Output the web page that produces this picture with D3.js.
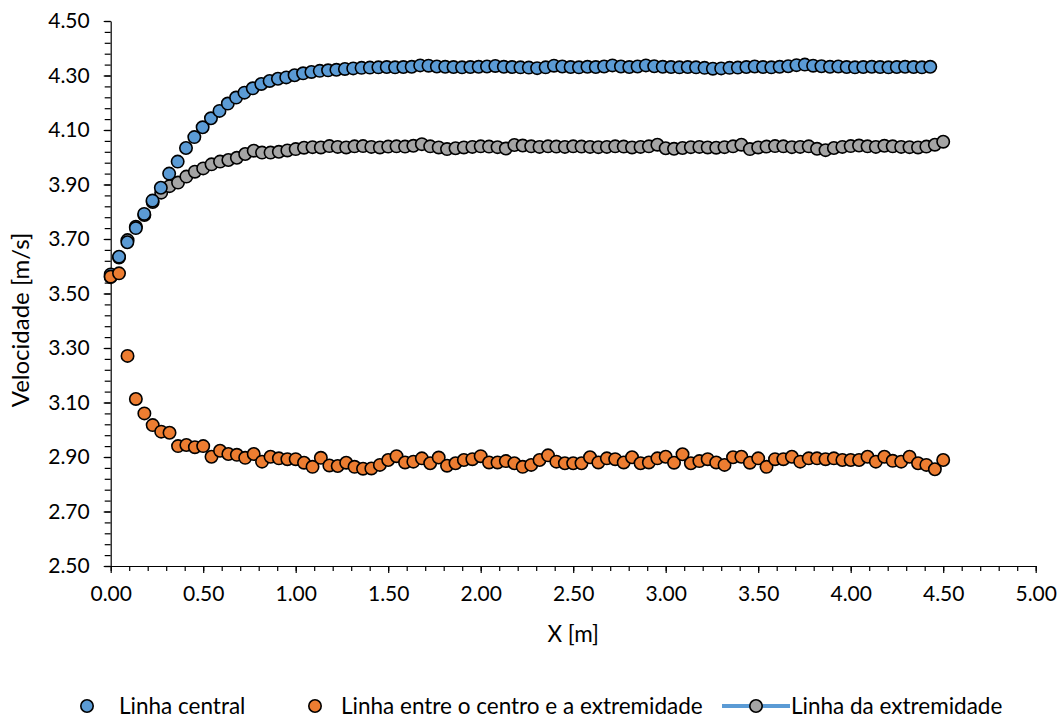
<!DOCTYPE html>
<html>
<head>
<meta charset="utf-8">
<script src="https://cdn.jsdelivr.net/npm/d3@7/dist/d3.min.js"></script>
<style>
  html, body { margin: 0; padding: 0; background: #fff; }
  svg { display: block; }
  text { font-family: Lato, "Open Sans", sans-serif; fill: #000; }
</style>
</head>
<body>
<svg id="chart" width="1063" height="717"></svg>
<script>
// ---------- DATA ----------
const xTicks = [0, 0.5, 1, 1.5, 2, 2.5, 3, 3.5, 4, 4.5, 5];
const yTicks = [2.5, 2.7, 2.9, 3.1, 3.3, 3.5, 3.7, 3.9, 4.1, 4.3, 4.5];
const seriesNames = ["Linha central", "Linha entre o centro e a extremidade", "Linha da extremidade"];

// x positions (m) shared by the "entre" and "extremidade" series (100 points)
const xPos = [0.000,0.045,0.091,0.136,0.182,0.227,0.273,0.318,0.364,0.409,
0.455,0.500,0.545,0.591,0.636,0.682,0.727,0.773,0.818,0.864,
0.909,0.955,1.000,1.045,1.091,1.136,1.182,1.227,1.273,1.318,
1.364,1.409,1.455,1.500,1.545,1.591,1.636,1.682,1.727,1.773,
1.818,1.864,1.909,1.955,2.000,2.045,2.091,2.136,2.182,2.227,
2.273,2.318,2.364,2.409,2.455,2.500,2.545,2.591,2.636,2.682,
2.727,2.773,2.818,2.864,2.909,2.955,3.000,3.045,3.091,3.136,
3.182,3.227,3.273,3.318,3.364,3.409,3.455,3.500,3.545,3.591,
3.636,3.682,3.727,3.773,3.818,3.864,3.909,3.955,4.000,4.045,
4.091,4.136,4.182,4.227,4.273,4.318,4.364,4.409,4.455,4.500];

// x positions (m) of the "central" series (99 points)
const xCentral = [0.000,0.045,0.090,0.136,0.181,0.226,0.271,0.316,0.362,0.407,
0.452,0.497,0.542,0.588,0.633,0.678,0.723,0.768,0.814,0.859,
0.904,0.949,0.994,1.040,1.085,1.130,1.175,1.220,1.266,1.311,
1.356,1.401,1.447,1.492,1.537,1.582,1.627,1.673,1.718,1.763,
1.808,1.853,1.899,1.944,1.989,2.034,2.079,2.125,2.170,2.215,
2.260,2.305,2.351,2.396,2.441,2.486,2.531,2.577,2.622,2.667,
2.712,2.758,2.803,2.848,2.893,2.938,2.984,3.029,3.074,3.119,
3.164,3.210,3.255,3.300,3.345,3.390,3.436,3.481,3.526,3.571,
3.616,3.662,3.707,3.752,3.797,3.842,3.888,3.933,3.978,4.023,
4.068,4.114,4.159,4.204,4.249,4.294,4.340,4.385,4.430];

const vCentral = [3.570,3.635,3.688,3.740,3.792,3.841,3.888,3.940,3.984,4.034,
4.074,4.110,4.143,4.170,4.197,4.219,4.237,4.253,4.269,4.280,
4.288,4.293,4.301,4.308,4.313,4.317,4.319,4.321,4.324,4.326,
4.328,4.329,4.330,4.331,4.330,4.331,4.332,4.337,4.336,4.333,
4.332,4.331,4.330,4.331,4.332,4.333,4.335,4.332,4.331,4.330,
4.329,4.327,4.330,4.336,4.333,4.331,4.330,4.332,4.331,4.333,
4.337,4.333,4.331,4.333,4.337,4.334,4.332,4.331,4.330,4.331,
4.330,4.328,4.325,4.326,4.328,4.329,4.331,4.333,4.331,4.330,
4.332,4.334,4.338,4.340,4.336,4.334,4.332,4.333,4.331,4.330,
4.331,4.332,4.331,4.330,4.331,4.332,4.331,4.330,4.332];

const vEntre = [3.562,3.574,3.271,3.113,3.060,3.017,2.993,2.989,2.940,2.944,
2.936,2.940,2.901,2.923,2.911,2.908,2.897,2.911,2.883,2.901,
2.895,2.892,2.892,2.879,2.864,2.897,2.869,2.867,2.879,2.864,
2.857,2.858,2.871,2.889,2.903,2.880,2.883,2.895,2.877,2.898,
2.868,2.877,2.889,2.892,2.903,2.880,2.880,2.885,2.877,2.864,
2.871,2.889,2.906,2.883,2.877,2.877,2.877,2.899,2.880,2.895,
2.892,2.880,2.899,2.877,2.880,2.895,2.901,2.879,2.910,2.877,
2.885,2.892,2.880,2.871,2.899,2.901,2.879,2.895,2.864,2.892,
2.892,2.901,2.883,2.895,2.895,2.892,2.895,2.889,2.889,2.889,
2.901,2.883,2.901,2.886,2.883,2.901,2.877,2.871,2.855,2.889];

const vExtrem = [3.560,3.632,3.696,3.745,3.788,3.836,3.870,3.894,3.907,3.929,
3.947,3.959,3.974,3.984,3.990,3.998,4.012,4.024,4.017,4.017,
4.020,4.025,4.030,4.035,4.037,4.036,4.041,4.038,4.036,4.040,
4.041,4.038,4.036,4.039,4.040,4.039,4.042,4.048,4.040,4.036,
4.030,4.033,4.036,4.038,4.040,4.039,4.037,4.032,4.045,4.043,
4.040,4.038,4.040,4.039,4.038,4.040,4.039,4.038,4.037,4.038,
4.040,4.039,4.036,4.038,4.040,4.046,4.033,4.031,4.034,4.037,
4.038,4.036,4.035,4.037,4.040,4.046,4.030,4.036,4.039,4.041,
4.040,4.037,4.038,4.040,4.031,4.026,4.034,4.038,4.041,4.043,
4.040,4.038,4.042,4.040,4.038,4.037,4.036,4.039,4.046,4.057];

// ---------- CHART ----------
const svg = d3.select("#chart");
const pLeft = 110.7, pRight = 1035.7, pTop = 21, pBottom = 566;

const x = d3.scaleLinear().domain([0, 5]).range([pLeft, pRight]);
const y = d3.scaleLinear().domain([2.5, 4.5]).range([pBottom, pTop]);

const colors = { central: "#5B9BD5", entre: "#ED7D31", extrem: "#A5A5A5" };
const R = 6.2, SW = 1.6;

// minor ticks
const xMinor = d3.range(0, 51).map(i => i / 10);
const yMinor = d3.range(0, 51).map(i => 2.5 + i * 0.04);

const gx = svg.append("g").attr("transform", `translate(0,${pBottom})`);
gx.call(d3.axisBottom(x).tickValues(xMinor).tickSize(5).tickFormat(""));
gx.call(g => g.selectAll(".domain").remove());
const gx2 = svg.append("g").attr("transform", `translate(0,${pBottom})`);
gx2.call(d3.axisBottom(x).tickValues(xTicks).tickSize(7).tickSizeOuter(0).tickPadding(13).tickFormat(d3.format(".2f")));

const gy = svg.append("g").attr("transform", `translate(${pLeft},0)`);
gy.call(d3.axisLeft(y).tickValues(yMinor).tickSize(6).tickFormat(""));
gy.call(g => g.selectAll(".domain").remove());
const gy2 = svg.append("g").attr("transform", `translate(${pLeft},0)`);
gy2.call(d3.axisLeft(y).tickValues(yTicks).tickSize(7).tickSizeOuter(0).tickPadding(14).tickFormat(d3.format(".2f")));

svg.selectAll(".tick line, .domain").attr("stroke", "#000").attr("stroke-width", 1.2);
svg.selectAll(".tick text").attr("font-size", 21).attr("font-family", "Lato, sans-serif").attr("fill", "#000");

// axis titles
svg.append("text").attr("x", (pLeft + pRight) / 2).attr("y", 642)
  .attr("text-anchor", "middle").attr("font-size", 22.5).text("X [m]");
svg.append("text").attr("transform", `translate(29,320) rotate(-90)`)
  .attr("text-anchor", "middle").attr("font-size", 24).text("Velocidade [m/s]");

// series (drawn: extremidade, central, entre)
function drawSeries(xs, vs, color) {
  svg.append("g").selectAll("circle").data(vs).join("circle")
    .attr("cx", (d, i) => x(xs[i])).attr("cy", d => y(d)).attr("r", R)
    .attr("fill", color).attr("stroke", "#000").attr("stroke-width", SW);
}
drawSeries(xPos, vExtrem, colors.extrem);
drawSeries(xCentral, vCentral, colors.central);
drawSeries(xPos, vEntre, colors.entre);

// legend
const ly = 706;
const lg = svg.append("g");
lg.append("circle").attr("cx", 87).attr("cy", ly).attr("r", R).attr("fill", colors.central).attr("stroke", "#000").attr("stroke-width", SW);
lg.append("text").attr("x", 119).attr("y", ly + 7.5).attr("font-size", 22.5).text(seriesNames[0]);
lg.append("circle").attr("cx", 315).attr("cy", ly).attr("r", R).attr("fill", colors.entre).attr("stroke", "#000").attr("stroke-width", SW);
lg.append("text").attr("x", 341).attr("y", ly + 7.5).attr("font-size", 22.5).text(seriesNames[1]);
lg.append("line").attr("x1", 722).attr("x2", 790).attr("y1", ly).attr("y2", ly).attr("stroke", colors.central).attr("stroke-width", 4);
lg.append("circle").attr("cx", 756).attr("cy", ly).attr("r", R).attr("fill", colors.extrem).attr("stroke", "#000").attr("stroke-width", SW);
lg.append("text").attr("x", 791).attr("y", ly + 7.5).attr("font-size", 22.5).text(seriesNames[2]);
</script>
</body>
</html>
